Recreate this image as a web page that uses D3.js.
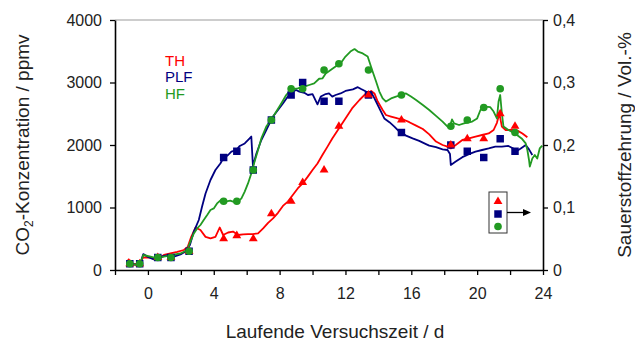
<!DOCTYPE html>
<html>
<head>
<meta charset="utf-8">
<script src="https://cdn.jsdelivr.net/npm/d3@7/dist/d3.min.js"></script>
<style>
  html, body { margin: 0; padding: 0; background: #fff; }
  svg { display: block; font-family: "Liberation Sans", Arial, sans-serif; }
</style>
</head>
<body>
<svg id="chart" width="635" height="342"></svg>
<script>
// ---- Continuous CO2 records (ppmv) per lysimeter variant ----
const thDays = [-1.2,-1.05,-0.5,-0.3,0.16,0.57,0.97,1.37,1.78,2.18,2.42,2.63,2.89,3.19,3.5,3.8,4.1,4.36,4.57,4.87,5.17,5.48,5.78,6.08,6.38,6.69,7.0,7.3,7.6,7.9,8.2,8.5,8.8,9.1,9.4,9.7,10.0,10.3,10.6,10.9,11.2,11.6,12.0,12.4,12.85,13.25,13.56,13.76,13.96,14.26,14.46,14.77,15.17,15.58,15.88,16.29,16.7,17.09,17.5,17.9,18.2,18.4,18.7,19.1,19.5,19.9,20.3,20.7,21.0,21.2,21.35,21.5,21.73,22.14,22.45,22.75,23.05];
const thCO2 = [180,100,90,200,200,170,240,265,290,320,370,530,680,640,530,505,530,680,560,600,615,560,570,575,575,585,665,755,825,915,1025,1095,1200,1305,1385,1490,1600,1705,1840,1970,2105,2265,2425,2585,2720,2825,2865,2825,2695,2560,2480,2455,2425,2400,2365,2310,2255,2170,2055,2000,1975,1945,2000,2080,2105,2135,2160,2185,2240,2355,2505,2295,2240,2240,2230,2185,2125];

const plfDays = [-1.15,-0.5,-0.28,-0.04,0.36,0.67,1.27,1.58,1.98,2.28,2.55,2.79,3.09,3.29,3.5,3.8,4.1,4.4,4.57,4.87,5.07,5.37,5.58,5.88,6.18,6.28,6.38,6.59,6.89,7.19,7.39,7.6,7.9,8.2,8.5,8.8,9.0,9.2,9.5,9.72,10.0,10.3,10.5,10.8,11.0,11.2,11.4,11.7,12.0,12.45,12.75,12.95,13.25,13.56,13.76,14.06,14.36,14.67,14.97,15.27,15.68,16.08,16.48,16.89,17.09,17.5,17.9,18.2,18.35,18.4,18.7,19.1,19.5,19.9,20.3,20.7,21.1,21.5,21.9,22.2,22.45,22.65,22.95,23.15,23.35];
const plfCO2 = [95,80,255,215,170,205,240,215,250,295,400,615,800,1015,1225,1440,1600,1705,1785,1840,1895,1920,1985,2025,2105,2135,1660,1865,2080,2240,2345,2455,2560,2665,2775,2855,2880,2855,2835,2800,2815,2650,2775,2815,2825,2775,2800,2825,2865,2890,2925,2895,2855,2845,2745,2585,2425,2365,2295,2215,2150,2105,2065,2015,1990,1965,1930,1920,1855,1680,1735,1805,1855,1895,1920,1945,1975,1975,1985,1945,1910,1945,2000,1930,1840];

const hfDays = [-1.15,-0.5,-0.28,0.16,0.57,0.97,1.48,1.98,2.38,2.58,2.79,2.99,3.19,3.39,3.6,3.8,4.0,4.2,4.44,4.7,5.0,5.17,5.48,5.68,5.88,6.08,6.28,6.48,6.69,6.89,7.19,7.5,7.8,8.1,8.4,8.7,9.1,9.5,9.8,10.1,10.4,10.6,10.8,11.1,11.4,11.7,12.0,12.3,12.55,12.75,13.05,13.35,13.45,13.65,13.86,14.06,14.26,14.46,14.77,15.07,15.37,15.68,15.98,16.29,16.7,17.09,17.5,17.9,18.2,18.35,18.47,18.6,18.9,19.2,19.7,20.0,20.2,20.5,20.8,21.0,21.2,21.3,21.4,21.5,21.6,21.9,22.3,22.7,22.95,23.05,23.15,23.2,23.35,23.5,23.65,23.8,23.95];
const hfCO2 = [95,80,240,215,185,215,240,265,320,455,585,665,720,800,880,960,985,1065,1120,1095,1110,1095,1095,1145,1255,1385,1545,1735,1920,2105,2295,2410,2535,2665,2800,2890,2905,2935,2960,2985,3060,3065,3145,3200,3255,3305,3415,3495,3535,3495,3465,3415,3335,3175,3015,2855,2745,2695,2745,2775,2800,2825,2775,2720,2640,2560,2465,2375,2295,2300,2410,2345,2320,2345,2375,2425,2560,2615,2605,2535,2425,2695,2800,2505,2295,2240,2185,2105,2025,1920,1760,1655,1785,1840,1785,1945,1990];

// ---- Discrete oxygen consumption samples (Vol.-%) ----
const sampleDays = [-1.1,-0.5,0.6,1.4,2.5,4.6,5.4,6.4,7.5,8.7,9.4,10.7,11.6,13.4,15.4,18.4,19.4,20.4,21.4,22.3];
const thO2  = [0.01,0.01,0.02,0.02,0.03,0.05,0.055,0.05,0.09,0.11,0.14,0.16,0.23,0.28,0.24,0.20,0.21,0.21,0.25,0.23];
const plfO2 = [0.01,0.01,0.02,0.02,0.03,0.18,0.19,0.16,0.24,0.28,0.30,0.27,0.27,0.28,0.22,0.20,0.19,0.18,0.21,0.19];
const hfO2  = [0.01,0.01,0.02,0.02,0.03,0.11,0.11,0.16,0.24,0.29,0.29,0.32,0.33,0.32,0.28,0.23,0.24,0.26,0.29,0.22];

// ---- Axis ticks ----
const xTicks = d3.range(-2, 25, 2);
const co2Ticks = [0, 1000, 2000, 3000, 4000];
const o2Ticks = [0, 0.1, 0.2, 0.3, 0.4];

const seriesNames = ["TH", "PLF", "HF"];
const colors = { TH: "#ff0000", PLF: "#000080", HF: "#229a22" };

const svg = d3.select("#chart");
const plotLeft = 115, plotRight = 543, plotTop = 20, plotBottom = 270;

const x = d3.scaleLinear().domain([-2, 24]).range([plotLeft, plotRight]);
const yL = d3.scaleLinear().domain([0, 4000]).range([plotBottom, plotTop]);
const yR = d3.scaleLinear().domain([0, 0.4]).range([plotBottom, plotTop]);

// plot frame: light top border
svg.append("line")
  .attr("x1", plotLeft).attr("x2", plotRight).attr("y1", plotTop).attr("y2", plotTop)
  .attr("stroke", "#bdbdbd").attr("stroke-width", 1.5);

// CO2 lines
const lineGen = d3.line().x(d => x(d[0])).y(d => yL(d[1]));
const lines = [
  { name: "TH",  days: thDays,  vals: thCO2 },
  { name: "PLF", days: plfDays, vals: plfCO2 },
  { name: "HF",  days: hfDays,  vals: hfCO2 }
];
lines.forEach(s => {
  svg.append("path")
    .datum(d3.zip(s.days, s.vals))
    .attr("d", lineGen)
    .attr("fill", "none")
    .attr("stroke", colors[s.name])
    .attr("stroke-width", 1.8)
    .attr("stroke-linejoin", "round");
});

// O2 markers
const sym = {
  TH: d3.symbol().type(d3.symbolTriangle).size(34),
  PLF: d3.symbol().type(d3.symbolSquare).size(56),
  HF: d3.symbol().type(d3.symbolCircle).size(46)
};
const markerSets = [
  { name: "PLF", vals: plfO2 },
  { name: "TH",  vals: thO2 },
  { name: "HF",  vals: hfO2 }
];
markerSets.forEach(s => {
  svg.append("g").selectAll("path")
    .data(d3.zip(sampleDays, s.vals))
    .join("path")
    .attr("d", sym[s.name]())
    .attr("transform", d => `translate(${x(d[0])},${yR(d[1])})`)
    .attr("fill", colors[s.name]);
});

// Axes
const fmtO2 = d => d === 0 ? "0" : d3.format(".1f")(d).replace(".", ",");

const gx = svg.append("g").attr("transform", `translate(0,${plotBottom})`)
  .call(d3.axisBottom(x).tickValues(xTicks).tickSize(5).tickSizeOuter(0).tickPadding(13)
    .tickFormat(d => d % 4 === 0 ? d : ""));
const gl = svg.append("g").attr("transform", `translate(${plotLeft},0)`)
  .call(d3.axisLeft(yL).tickValues(co2Ticks).tickSize(5).tickSizeOuter(0).tickPadding(8)
    .tickFormat(d3.format("d")));
const gr = svg.append("g").attr("transform", `translate(${plotRight},0)`)
  .call(d3.axisRight(yR).tickValues(o2Ticks).tickSize(5).tickSizeOuter(0).tickPadding(5)
    .tickFormat(fmtO2));

[gx, gl, gr].forEach(g => {
  g.selectAll(".domain").attr("stroke", "#000").attr("stroke-width", 1.6);
  g.selectAll(".tick line").attr("stroke", "#000").attr("stroke-width", 1.3);
  g.selectAll("text").attr("font-size", 16).attr("fill", "#222")
    .attr("font-family", "Liberation Sans, Arial, sans-serif");
});

// Axis titles
const yTitle = svg.append("text")
  .attr("transform", `translate(29,${(plotTop + plotBottom) / 2}) rotate(-90)`)
  .attr("text-anchor", "middle").attr("font-size", 19).attr("fill", "#222");
yTitle.append("tspan").text("CO");
yTitle.append("tspan").attr("font-size", 12).attr("dy", 4).text("2");
yTitle.append("tspan").attr("dy", -4).text("-Konzentration / ppmv");

svg.append("text")
  .attr("transform", `translate(631,${(plotTop + plotBottom) / 2}) rotate(-90)`)
  .attr("text-anchor", "middle").attr("font-size", 19).attr("fill", "#222")
  .text("Sauerstoffzehrung / Vol.-%");

svg.append("text")
  .attr("x", (plotLeft + plotRight) / 2 + 6).attr("y", 338)
  .attr("text-anchor", "middle").attr("font-size", 19).attr("fill", "#222")
  .text("Laufende Versuchszeit / d");

// Series names
seriesNames.forEach((n, i) => {
  svg.append("text")
    .attr("x", 165).attr("y", 65.5 + i * 16.5)
    .attr("font-size", 15).attr("fill", colors[n])
    .text(n);
});

// Marker key box pointing to the right-hand axis
const key = svg.append("g");
key.append("rect")
  .attr("x", 489).attr("y", 192).attr("width", 18).attr("height", 41)
  .attr("fill", "#fff").attr("stroke", "#333").attr("stroke-width", 1);
["TH", "PLF", "HF"].forEach((n, i) => {
  key.append("path")
    .attr("d", sym[n]())
    .attr("transform", `translate(498,${201.5 + i * 12.5})`)
    .attr("fill", colors[n]);
});
key.append("line")
  .attr("x1", 507).attr("x2", 524).attr("y1", 212.5).attr("y2", 212.5)
  .attr("stroke", "#000").attr("stroke-width", 1.3);
key.append("path")
  .attr("d", "M531,212.5 L523,209 L523,216 Z")
  .attr("fill", "#000");
</script>
</body>
</html>
